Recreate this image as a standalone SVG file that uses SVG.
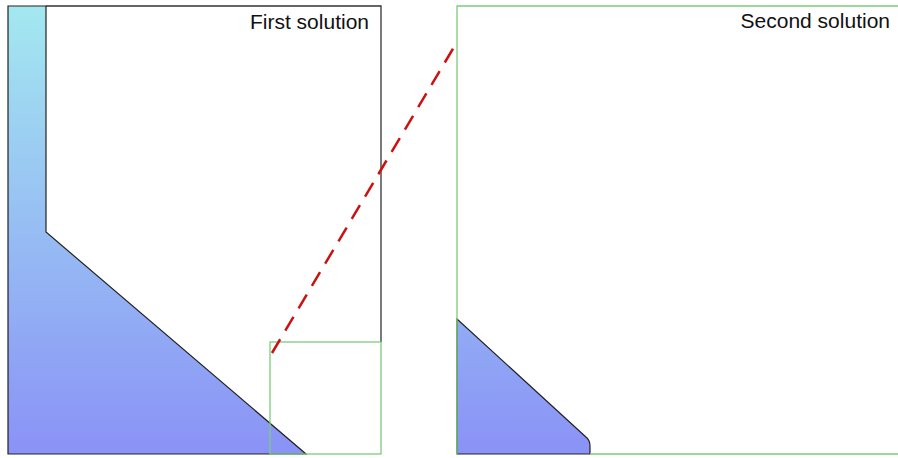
<svg xmlns="http://www.w3.org/2000/svg" width="898" height="458" viewBox="0 0 898 458">
<defs>
<linearGradient id="g" gradientUnits="userSpaceOnUse" x1="0" y1="6" x2="0" y2="454">
<stop offset="0" stop-color="#a3e8f0"/>
<stop offset="1" stop-color="#8a92f6"/>
</linearGradient>
<style>
.lbl{font-family:"Liberation Sans",Arial,sans-serif;font-size:21px;fill:#111}
.frame{fill:none;stroke:#333;stroke-width:1.3}
.zoom{fill:none;stroke:#7ccc7c;stroke-width:1.3}
.solid{fill:url(#g);stroke:#222;stroke-width:1.2}
</style>
</defs>
<rect width="898" height="458" fill="#fff"/>
<g id="first-solution">
<path class="solid" d="M8,6 L46,6 L46,232 L306,454 L8,454 Z"/>
<path class="frame" d="M46,6 L381,6 L381,342"/>
<text class="lbl" x="369" y="29" text-anchor="end">First solution</text>
</g>
<g id="zoom-box">
<rect class="zoom" x="270" y="342" width="111" height="112"/>
</g>
<g id="second-solution">
<path class="solid" d="M457,319 L587,438 Q590,441 590,446 L590,454 L457,454 Z"/>
<path class="zoom" d="M590,454 L898,454 M457,454 L457,6 L898,6"/>
<text class="lbl" x="890" y="28" text-anchor="end">Second solution</text>
</g>
<g id="connectors">
<line x1="272" y1="353" x2="457" y2="42" stroke="#cc1111" stroke-width="2.5" stroke-dasharray="16,10"/>
</g>
</svg>
